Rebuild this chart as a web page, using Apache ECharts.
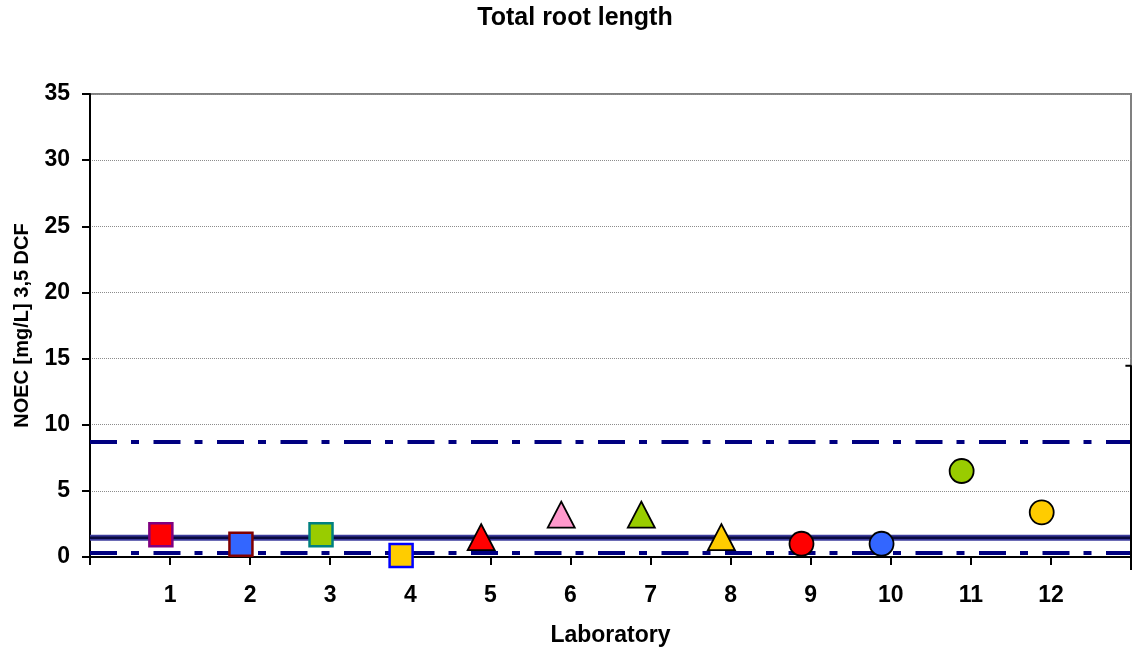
<!DOCTYPE html>
<html>
<head>
<meta charset="utf-8">
<script src="https://cdn.jsdelivr.net/npm/echarts@6/dist/echarts.min.js"></script>
<style>html,body{margin:0;padding:0;background:#fff;}#c{width:1133px;height:648px;}</style>
</head>
<body>
<div id="c"></div>
<script>
// ---- data ----
var labs = [1, 2, 3, 4, 5, 6, 7, 8, 9, 10, 11, 12];
var labOffset = -0.115;
var noec = [1.68, 0.97, 1.68, 0.12, 1.5, 3.2, 3.2, 1.5, 1.0, 1.0, 6.5, 3.38];
var symbols = ['rect','rect','rect','rect','triangle','triangle','triangle','triangle','circle','circle','circle','circle'];
var fills = ['#ff0000','#3366ff','#99cc00','#ffcc00','#ff0000','#ff99cc','#99cc00','#ffcc00','#ff0000','#3366ff','#99cc00','#ffcc00'];
var borders = ['#800080','#800000','#008080','#0000ff','#000000','#000000','#000000','#000000','#000000','#000000','#000000','#000000'];
var meanValue = 1.46;
var upperLimit = 8.69;
var lowerLimit = 0.3;
var xExtent = [0, 13];
var yTicks = [0, 5, 10, 15, 20, 25, 30, 35];
var rightLineTop = 14.45;
var rightLineBottom = -0.98;
var rightTickX = 12.93;

var fontFam = '"Liberation Sans", Arial, sans-serif';
var chart = echarts.init(document.getElementById('c'), null, {renderer: 'canvas'});

var scatterData = labs.map(function (l, i) {
  var isTri = symbols[i] === 'triangle';
  return {
    value: [l + labOffset, noec[i]],
    symbol: symbols[i],
    symbolSize: isTri ? [27, 26] : (symbols[i] === 'rect' ? 23 : 24),
    itemStyle: {color: fills[i], borderColor: borders[i], borderWidth: symbols[i] === 'rect' ? 2.5 : 1.8, opacity: 1}
  };
});

function hline(v) { return [[xExtent[0], v], [xExtent[1], v]]; }

var option = {
  animation: false,
  backgroundColor: '#ffffff',
  title: {
    text: 'Total root length',
    left: 575, top: 6, padding: 0, textAlign: 'center',
    textStyle: {fontFamily: fontFam, fontWeight: 'bold', fontSize: 25, color: '#000'}
  },
  grid: {left: 90, right: 2, top: 94, bottom: 91, containLabel: false, outerBoundsMode: 'none',
    show: true, borderColor: '#808080', borderWidth: 2, backgroundColor: 'transparent'},
  xAxis: {
    type: 'value', min: xExtent[0], max: xExtent[1], interval: 1,
    name: 'Laboratory', nameLocation: 'middle', nameGap: 67,
    nameTextStyle: {fontFamily: fontFam, fontWeight: 'bold', fontSize: 23, color: '#000'},
    axisLine: {show: true, onZero: false, lineStyle: {color: '#000', width: 2}},
    axisTick: {show: true, inside: false, length: 8, lineStyle: {color: '#000', width: 2}},
    splitLine: {show: false},
    axisLabel: {
      margin: 27, fontFamily: fontFam, fontWeight: 'bold', fontSize: 23, color: '#000',
      formatter: function (v) { return labs.indexOf(v) >= 0 ? String(v) : ''; }
    }
  },
  yAxis: {
    type: 'value', min: yTicks[0], max: yTicks[yTicks.length - 1], interval: 5,
    name: 'NOEC [mg/L] 3,5 DCF', nameLocation: 'middle', nameGap: 58, nameRotate: 90,
    nameTextStyle: {fontFamily: fontFam, fontWeight: 'bold', fontSize: 20, color: '#000'},
    axisLine: {show: true, lineStyle: {color: '#000', width: 2}},
    axisTick: {show: true, inside: false, length: 8, lineStyle: {color: '#000', width: 2}},
    splitLine: {show: true, lineStyle: {color: '#8c8c8c', width: 1, type: [1, 1]}},
    axisLabel: {margin: 20, fontFamily: fontFam, fontWeight: 'bold', fontSize: 23, color: '#000'}
  },
  series: [
    {
      type: 'line', data: hline(upperLimit), symbol: 'none', silent: true, z: 2,
      lineStyle: {color: '#000080', width: 4, type: [27, 14, 8, 14.5], cap: 'butt'}
    },
    {
      type: 'line', data: hline(lowerLimit), symbol: 'none', silent: true, z: 2,
      lineStyle: {color: '#000080', width: 4, type: [27, 14, 8, 14.5], cap: 'butt'}
    },
    {
      type: 'line', data: hline(meanValue), symbol: 'none', silent: true, z: 2,
      lineStyle: {color: '#3c3c9c', width: 6}
    },
    {
      type: 'line', data: hline(meanValue), symbol: 'none', silent: true, z: 2,
      lineStyle: {color: '#0a0a40', width: 2.6}
    },
    {
      type: 'line', clip: false, silent: true, symbol: 'none', z: 4,
      data: [[rightTickX, rightLineTop], [xExtent[1], rightLineTop], [xExtent[1], rightLineBottom]],
      lineStyle: {color: '#000', width: 2}
    },
    {
      type: 'scatter', data: scatterData, z: 5, silent: true
    }
  ]
};
chart.setOption(option);
</script>
</body>
</html>
